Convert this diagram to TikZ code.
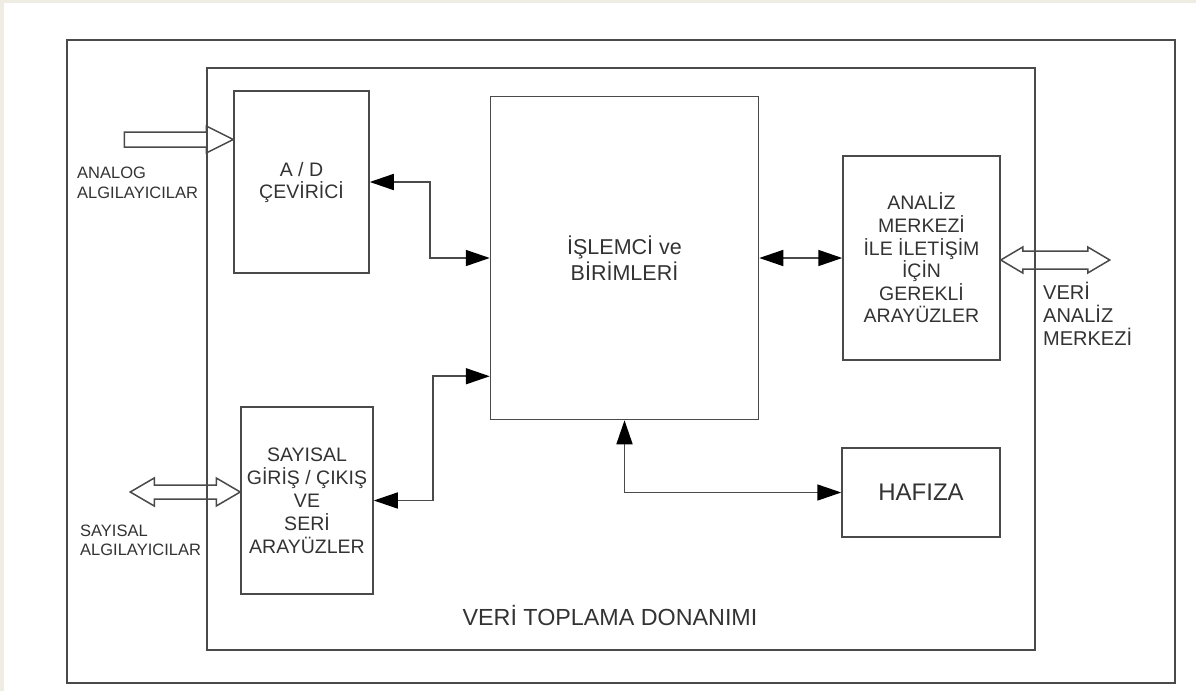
\documentclass[tikz,border=0pt]{standalone}
\usepackage{fontspec}
\setmainfont{Liberation Sans}
\usepackage{xcolor}
\usepackage{tikz}
\usetikzlibrary{arrows.meta,calc}
\definecolor{beige}{HTML}{EFEDE3}
\definecolor{linegray}{HTML}{4A4A4A}
\definecolor{textgray}{HTML}{333333}

\begin{document}
\begin{tikzpicture}[x=1pt,y=-1pt,
  block/.style={draw=linegray,line width=1.5pt,fill=white,inner sep=0pt,text=textgray,align=center},
  frame/.style={draw=linegray,line width=1.5pt},
  tip/.style={Triangle[length=24pt,width=16pt,color=black]},
  link/.style={draw=linegray,line width=1.6pt,{Triangle[length=24pt,width=16pt,color=black]}-{Triangle[length=24pt,width=16pt,color=black]}},
  hollow/.style={draw=linegray,line width=1.5pt,line join=miter},
  lbl/.style={text=textgray,inner sep=0pt,align=left}]
\useasboundingbox (0,0) rectangle (1196,691);
\fill[beige](0,0)rectangle(1196,691);
\fill[white](4,3)rectangle(1196,691);
% frames
\draw[frame](67,40)rectangle(1175,683);
\draw[frame](207,68)rectangle(1035,650);
% blocks
\node(ad)[block,minimum width=135pt,minimum height=182pt,font=\fontsize{19.5}{22}\selectfont] at (301.5,182) {A / D\\ÇEVİRİCİ};
\node(cpu)[block,minimum width=268pt,minimum height=323pt,font=\fontsize{21.5}{26}\selectfont] at (624.5,258) {İŞLEMCİ ve\\BİRİMLERİ};
\node(analiz)[block,minimum width=157pt,minimum height=204pt,font=\fontsize{19.5}{22.6}\selectfont] at (921.5,258) {ANALİZ\\MERKEZİ\\İLE İLETİŞİM\\İÇİN\\GEREKLİ\\ARAYÜZLER};
\node(hafiza)[block,minimum width=158pt,minimum height=89pt,font=\fontsize{24}{28}\selectfont] at (921,492.5) {HAFIZA};
\node(say)[block,minimum width=132pt,minimum height=187pt,font=\fontsize{19.5}{23}\selectfont] at (307,500.5) {SAYISAL\\GİRİŞ / ÇIKIŞ\\VE\\SERİ\\ARAYÜZLER};
% labels
\node(analoglbl)[lbl,anchor=west,font=\fontsize{16.5}{20}\selectfont] at (77,183) {ANALOG\\ALGILAYICILAR};
\node(saylbl)[lbl,anchor=west,font=\fontsize{16.5}{19}\selectfont] at (80,540) {SAYISAL\\ALGILAYICILAR};
\node(merkezlbl)[lbl,anchor=west,font=\fontsize{20}{23}\selectfont] at (1043,314) {VERİ\\ANALİZ\\MERKEZİ};
\node(donanim)[lbl,font=\fontsize{23.3}{28}\selectfont] at (610,615) {VERİ TOPLAMA DONANIMI};
% connectors
\draw[link](ad.east)--++(60,0)|-(cpu.west);
\draw[link](say.east)--++(59,0)|-($(cpu.south west)+(0,-44)$);
\draw[link](cpu.south)|-(hafiza.west);
\draw[link](cpu.east)--(analiz.west);
% hollow arrows
\coordinate(analog) at (125,139.5);
\coordinate(sayin) at (130,492);
\coordinate(veri) at (1109,260);
\draw[hollow](ad.west|-analog)--++(-27,-13.5)--++(0,6)--++(-82,0)--++(0,15)--++(82,0)--++(0,6)--cycle;
\draw[hollow](say.west|-sayin)--++(-24,-14)--++(0,7)--++(-62,0)--++(0,-7)--++(-24,14)--++(24,14)--++(0,-7)--++(62,0)--++(0,7)--cycle;
\draw[hollow](analiz.east|-veri)--++(22,-13)--++(0,4)--++(65,0)--++(0,-4)--++(22,13)--++(-22,13)--++(0,-4)--++(-65,0)--++(0,4)--cycle;
\end{tikzpicture}
\end{document}
